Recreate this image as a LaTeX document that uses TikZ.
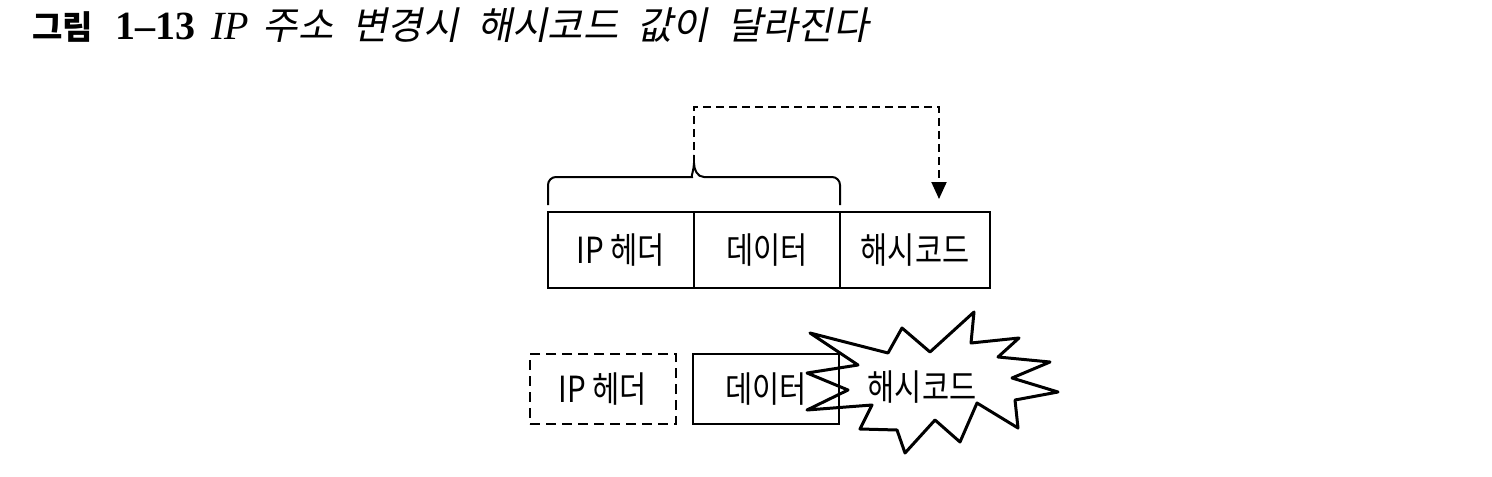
\documentclass[tikz,border=0pt]{standalone}
\usepackage{fontspec}
\setmainfont{Liberation Serif}
\newfontfamily\kr{Noto Sans CJK KR}
\newfontfamily\krbox{Noto Sans CJK KR}[FakeStretch=0.82]
\newfontfamily\krit{Noto Sans CJK KR}[FakeSlant=0.2,WordSpace=2.2]
\usetikzlibrary{positioning,arrows.meta,decorations.pathreplacing}

\tikzset{
  champ/.style={draw, line width=1.4pt, minimum width=73pt, minimum height=38pt,
    outer sep=0pt, inner sep=0pt, font=\krbox\fontsize{18}{20}\selectfont},
  champbas/.style={champ, minimum height=35pt},
  accolade/.style={line width=1pt, rounded corners=4pt},
  fleche/.style={dash pattern=on 4pt off 2.5pt, line width=1pt,
    -{Triangle[length=8.5pt,width=7.5pt]}},
  eclat/.style={line width=1.5pt, line join=round}
}

\begin{document}
\begin{tikzpicture}[x=0.5pt, y=-0.5pt]
  \useasboundingbox (0,0) rectangle (1492,476);

  % titre
  \node[anchor=base west, inner sep=0pt] (titre) at (32,40)
    {\fontsize{20}{22}\selectfont{\kr\bfseries\fontsize{16.5}{18}\selectfont 그림}\hspace{11pt}{\bfseries 1–13}\hspace{8pt}{\itshape IP}\hspace{7pt}{\krit\fontsize{19.2}{21}\selectfont 주소 변경시 해시코드 값이 달라진다}};

  % dessiner les cases du paquet
  \node[champ] (entete) at (621,250) {IP 헤더};
  \node[champ, right=0pt of entete] (donnees) {데이터};
  \node[champ, right=0pt of donnees, minimum width=75pt] (hachage) {해시코드};

  % accolade et fleche pointillee
  \coordinate (pointe) at ([yshift=24.5pt]donnees.north west);
  \draw[accolade] ([yshift=3.5pt]entete.north west) -- ([yshift=17.5pt]entete.north west)
    -- ([xshift=-5pt,yshift=17.5pt]donnees.north west) [sharp corners] to[out=0,in=-90] (pointe)
    to[out=-90,in=180] ([xshift=5pt,yshift=17.5pt]donnees.north west) [rounded corners=4pt]
    -- ([yshift=17.5pt]donnees.north east) -- ([yshift=3.5pt]donnees.north east);
  \coordinate (cible) at ([xshift=12pt,yshift=6.5pt]hachage.north);
  \draw[fleche] (pointe) |- ([yshift=46pt]cible) -- (cible);

  % paquet modifie
  \node[champbas, dash pattern=on 5pt off 3pt] (entete2) at (603,389) {IP 헤더};
  \node[champbas, right=8.5pt of entete2] (donnees2) {데이터};

  % dessiner l'eclat
  \draw[eclat] (810,333) -- (888,353) -- (902,328) -- (930,352) -- (974,312)
    -- (971,343) -- (1019,338) -- (998,357) -- (1050,362) -- (1012,378)
    -- (1058,392) -- (1015,400) -- (1018,428) -- (977,403) -- (960,442)
    -- (935,420) -- (905,453) -- (897,430) -- (860,429) -- (872,405)
    -- (807,410) -- (848,390) -- (807,373) -- (858,365) -- cycle;
  \node[font=\krbox\fontsize{18}{20}\selectfont] (hachage2) at (922,387) {해시코드};
\end{tikzpicture}
\end{document}
